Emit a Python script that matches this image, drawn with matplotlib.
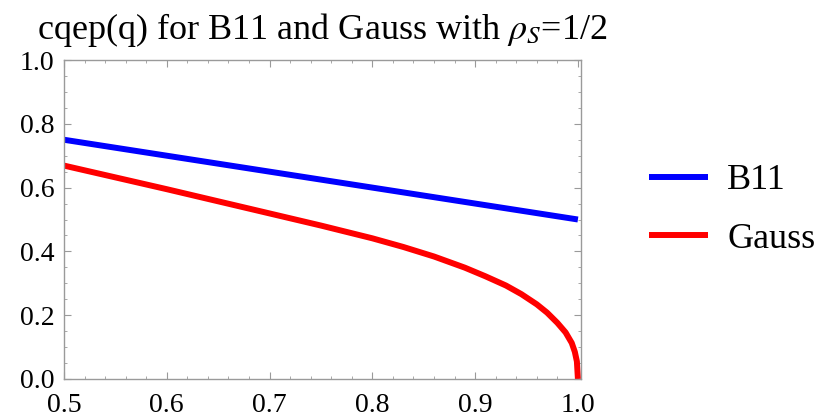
import matplotlib
matplotlib.use("Agg")
import matplotlib.pyplot as plt
from matplotlib.ticker import MultipleLocator

plt.rcParams['font.family'] = ['Liberation Serif', 'DejaVu Serif']
plt.rcParams['mathtext.fontset'] = 'stix'

# Data
q_b11 = [0.5, 0.6, 0.7, 0.8, 0.9, 1.0]
cqep_b11 = [0.75, 0.70, 0.65, 0.60, 0.55, 0.50]

q_gauss = [0.5, 0.55, 0.6, 0.65, 0.7, 0.75, 0.8, 0.83, 0.86, 0.89, 0.91,
           0.93, 0.945, 0.96, 0.97, 0.98, 0.988, 0.994, 0.997, 0.999, 1.0]
cqep_gauss = [0.669, 0.632, 0.595, 0.557, 0.519, 0.481, 0.441, 0.414, 0.384,
              0.349, 0.322, 0.293, 0.266, 0.234, 0.208, 0.176, 0.146, 0.113,
              0.085, 0.055, 0.0]

series_labels = ["B11", "Gauss"]
title = r"cqep(q) for B11 and Gauss with $\rho_S$=1/2"
x_ticks = [0.5, 0.6, 0.7, 0.8, 0.9, 1.0]
y_ticks = [0.0, 0.2, 0.4, 0.6, 0.8, 1.0]

fig = plt.figure(figsize=(8.25, 4.17), dpi=100)
ax = fig.add_axes([64/825, 38/417, (581-64)/825, (379-60)/417])

ax.plot(q_b11, cqep_b11, color=(0, 0, 1), lw=4.3, label=series_labels[0],
        solid_capstyle='butt', solid_joinstyle='round')
ax.plot(q_gauss, cqep_gauss, color=(1, 0, 0), lw=4.3, label=series_labels[1],
        solid_capstyle='butt', solid_joinstyle='round')

ax.set_xlim(0.5, 1.003)
ax.set_ylim(0.0, 1.0)
ax.set_xticks(x_ticks)
ax.set_xticklabels([f"{v:.1f}" for v in x_ticks])
ax.set_yticks(y_ticks)
ax.set_yticklabels([f"{v:.1f}" for v in y_ticks])
ax.xaxis.set_minor_locator(MultipleLocator(0.02))
ax.yaxis.set_minor_locator(MultipleLocator(0.05))

frame_color = '#9a9a9a'
for s in ax.spines.values():
    s.set_color(frame_color)
    s.set_linewidth(1.0)
ax.tick_params(which='both', direction='in', top=True, right=True,
               color=frame_color, labelsize=20)
ax.tick_params(which='major', length=5, width=0.8)
ax.tick_params(which='minor', length=2.5, width=0.6)
ax.tick_params(axis='x', which='major', pad=10)
ax.tick_params(axis='y', which='major', pad=7)

ax.set_title(title, fontsize=26, pad=15)

fig.legend(loc='center left', bbox_to_anchor=(649/825, 1 - 210/417),
           frameon=False, fontsize=26, handlelength=1.64, handletextpad=0.53,
           labelspacing=0.7, borderpad=0, borderaxespad=0)

fig.savefig("out.png", dpi=100)
